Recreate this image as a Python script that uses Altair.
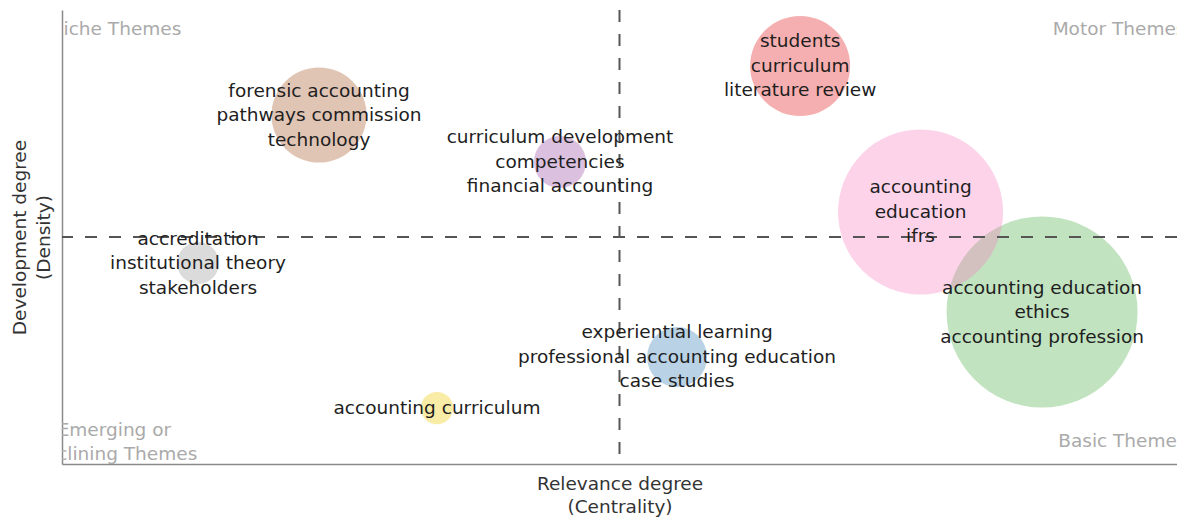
import altair as alt
import pandas as pd

# ---- data ----
themes = [
    "accounting education\nethics\naccounting profession",
    "accounting\neducation\nifrs",
    "students\ncurriculum\nliterature review",
    "forensic accounting\npathways commission\ntechnology",
    "curriculum development\ncompetencies\nfinancial accounting",
    "accreditation\ninstitutional theory\nstakeholders",
    "experiential learning\nprofessional accounting education\ncase studies",
    "accounting curriculum",
]
centrality = [0.879, 0.770, 0.662, 0.2305, 0.4466, 0.122, 0.5516, 0.3363]
density = [0.3348, 0.5551, 0.8767, 0.7687, 0.6652, 0.4427, 0.2357, 0.1233]
frequency = [912, 681, 250, 226, 68, 44, 90, 26]
colors = ["#4DAF4A", "#F781BF", "#E41A1C", "#A65628", "#984EA3", "#999999", "#377EB8", "#EEC900"]

quad_labels = ["Niche Themes", "Motor Themes", "Emerging or\nDeclining Themes", "Basic Themes"]
quad_x = [0.048, 0.948, 0.047, 0.951]
quad_y = [0.958, 0.958, 0.0749, 0.0507]

median_centrality = [0.5]
median_density = [0.5]

FONT = "DejaVu Sans"
FS = 18.5
LH = 24.5

df = pd.DataFrame({
    "theme": themes,
    "centrality": centrality,
    "density": density,
    "freq": frequency,
    "rank": list(range(len(themes))),
    "nlines": [t.count("\n") + 1 for t in themes],
})
qdf = pd.DataFrame({"label": quad_labels, "x": quad_x, "y": quad_y})

xscale = alt.Scale(domain=[0, 1], nice=False, zero=False)
yscale = alt.Scale(domain=[0, 1], nice=False, zero=False)

xaxis = alt.Axis(title=["Relevance degree", "(Centrality)"], labels=False, ticks=False, grid=False,
                 domainColor="#8a8a8a", domainWidth=1.5, titleFont=FONT, titleFontSize=FS,
                 titleFontWeight="normal", titleColor="#333333", titlePadding=10, titleLineHeight=23)
yaxis = alt.Axis(title=["Development degree", "(Density)"], labels=False, ticks=False, grid=False,
                 domainColor="#8a8a8a", domainWidth=1.5, titleFont=FONT, titleFontSize=FS,
                 titleFontWeight="normal", titleColor="#333333", titlePadding=9, titleLineHeight=24)

base = alt.Chart(df)

bubbles = base.mark_circle(opacity=0.35).encode(
    x=alt.X("centrality:Q", scale=xscale, axis=xaxis),
    y=alt.Y("density:Q", scale=yscale, axis=yaxis),
    size=alt.Size("freq:Q", scale=alt.Scale(domain=[0, 912], range=[0, 36481]), legend=None),
    color=alt.Color("theme:N", scale=alt.Scale(domain=themes, range=colors), legend=None),
    order=alt.Order("rank:Q"),
)

vline = alt.Chart(pd.DataFrame({"m": median_centrality})).mark_rule(
    color="#555555", strokeWidth=2, strokeDash=[12, 12]
).encode(x=alt.X("m:Q", scale=xscale))

hline = alt.Chart(pd.DataFrame({"m": median_density})).mark_rule(
    color="#555555", strokeWidth=2, strokeDash=[12, 12]
).encode(y=alt.Y("m:Q", scale=yscale))

def label_layer(n, dy):
    return base.transform_filter(f"datum.nlines == {n}").mark_text(
        font=FONT, fontSize=FS, lineHeight=LH, lineBreak="\n", dy=dy,
        color="#1e1e1e", align="center", baseline="middle").encode(
        x=alt.X("centrality:Q", scale=xscale),
        y=alt.Y("density:Q", scale=yscale),
        text="theme:N",
    )

labels3 = label_layer(3, -LH)
labels1 = label_layer(1, 0)

quads = alt.Chart(qdf).mark_text(font=FONT, fontSize=FS, lineHeight=LH, lineBreak="\n",
                                 color="#aaaaaa", align="center", baseline="middle", clip=True).encode(
    x=alt.X("x:Q", scale=xscale),
    y=alt.Y("y:Q", scale=yscale),
    text="label:N",
)

chart = alt.layer(bubbles, vline, hline, quads, labels3, labels1).properties(
    width=1115, height=454,
    autosize=alt.AutoSizeParams(type="none"),
    padding={"left": 54, "top": 2, "right": 0, "bottom": 53},
).configure_view(stroke=None)

chart.save("out.html", embed_options={"renderer": "svg", "actions": False})
